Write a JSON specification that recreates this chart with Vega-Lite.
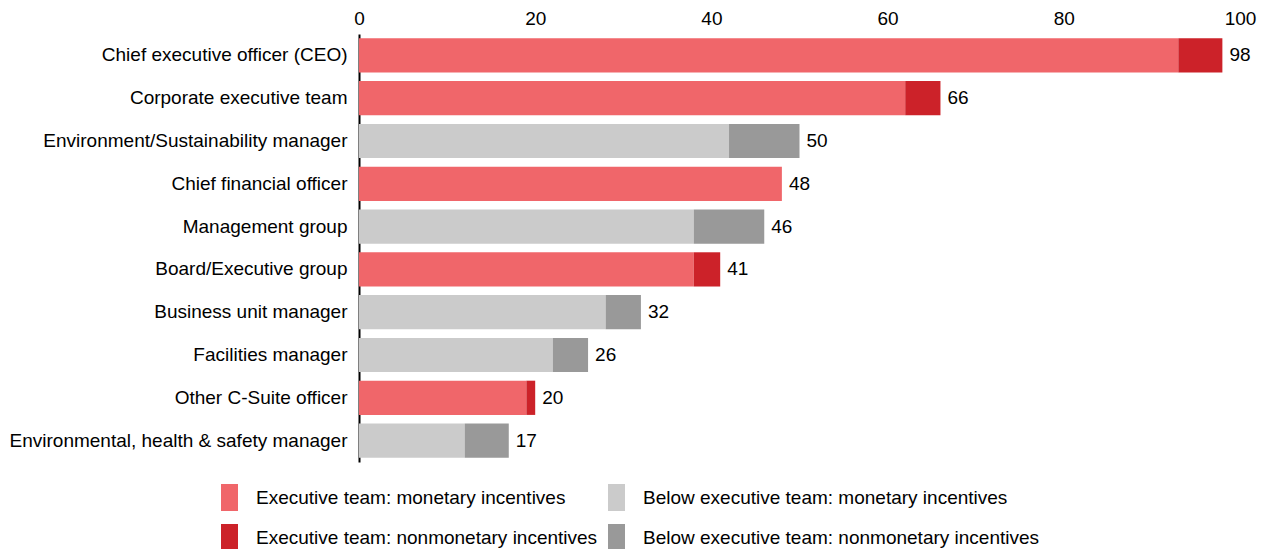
{
  "$schema": "https://vega.github.io/schema/vega-lite/v6.json",
  "width": 881,
  "height": 428,
  "autosize": "none",
  "padding": {"left": 359, "top": 34, "right": 26, "bottom": 87},
  "config": {
    "view": {"stroke": null},
    "font": "Liberation Sans",
    "axis": {"labelFont": "Liberation Sans", "labelColor": "#000000"},
    "legend": {"labelFont": "Liberation Sans", "labelColor": "#000000"}
  },
  "datasets": {
    "parts": [
      {"role": "Chief executive officer (CEO)", "series": "Executive team: monetary incentives", "ord": 1, "value": 93},
      {"role": "Chief executive officer (CEO)", "series": "Executive team: nonmonetary incentives", "ord": 2, "value": 5},
      {"role": "Corporate executive team", "series": "Executive team: monetary incentives", "ord": 1, "value": 62},
      {"role": "Corporate executive team", "series": "Executive team: nonmonetary incentives", "ord": 2, "value": 4},
      {"role": "Environment/Sustainability manager", "series": "Below executive team: monetary incentives", "ord": 1, "value": 42},
      {"role": "Environment/Sustainability manager", "series": "Below executive team: nonmonetary incentives", "ord": 2, "value": 8},
      {"role": "Chief financial officer", "series": "Executive team: monetary incentives", "ord": 1, "value": 48},
      {"role": "Management group", "series": "Below executive team: monetary incentives", "ord": 1, "value": 38},
      {"role": "Management group", "series": "Below executive team: nonmonetary incentives", "ord": 2, "value": 8},
      {"role": "Board/Executive group", "series": "Executive team: monetary incentives", "ord": 1, "value": 38},
      {"role": "Board/Executive group", "series": "Executive team: nonmonetary incentives", "ord": 2, "value": 3},
      {"role": "Business unit manager", "series": "Below executive team: monetary incentives", "ord": 1, "value": 28},
      {"role": "Business unit manager", "series": "Below executive team: nonmonetary incentives", "ord": 2, "value": 4},
      {"role": "Facilities manager", "series": "Below executive team: monetary incentives", "ord": 1, "value": 22},
      {"role": "Facilities manager", "series": "Below executive team: nonmonetary incentives", "ord": 2, "value": 4},
      {"role": "Other C-Suite officer", "series": "Executive team: monetary incentives", "ord": 1, "value": 19},
      {"role": "Other C-Suite officer", "series": "Executive team: nonmonetary incentives", "ord": 2, "value": 1},
      {"role": "Environmental, health & safety manager", "series": "Below executive team: monetary incentives", "ord": 1, "value": 12},
      {"role": "Environmental, health & safety manager", "series": "Below executive team: nonmonetary incentives", "ord": 2, "value": 5}
    ],
    "totals": [
      {"role": "Chief executive officer (CEO)", "total": 98},
      {"role": "Corporate executive team", "total": 66},
      {"role": "Environment/Sustainability manager", "total": 50},
      {"role": "Chief financial officer", "total": 48},
      {"role": "Management group", "total": 46},
      {"role": "Board/Executive group", "total": 41},
      {"role": "Business unit manager", "total": 32},
      {"role": "Facilities manager", "total": 26},
      {"role": "Other C-Suite officer", "total": 20},
      {"role": "Environmental, health & safety manager", "total": 17}
    ]
  },
  "encoding": {
    "y": {
      "field": "role",
      "type": "nominal",
      "sort": ["Chief executive officer (CEO)", "Corporate executive team", "Environment/Sustainability manager", "Chief financial officer", "Management group", "Board/Executive group", "Business unit manager", "Facilities manager", "Other C-Suite officer", "Environmental, health & safety manager"],
      "scale": {"paddingInner": 0.2, "paddingOuter": 0.1},
      "axis": {
        "title": null,
        "ticks": false,
        "domainColor": "#000000",
        "domainWidth": 2,
        "labelFontSize": 19,
        "labelPadding": 12,
        "labelLimit": 400
      }
    }
  },
  "layer": [
    {
      "data": {"name": "parts"},
      "mark": {"type": "bar"},
      "encoding": {
        "x": {
          "field": "value",
          "type": "quantitative",
          "stack": "zero",
          "scale": {"domain": [0, 100], "nice": false},
          "axis": {
            "orient": "top",
            "title": null,
            "values": [0, 20, 40, 60, 80, 100],
            "grid": false,
            "ticks": false,
            "domain": false,
            "labelFontSize": 19,
            "labelPadding": 6,
            "labelFlush": false
          }
        },
        "order": {"field": "ord", "type": "quantitative"},
        "color": {
          "field": "series",
          "type": "nominal",
          "scale": {
            "domain": ["Executive team: monetary incentives", "Executive team: nonmonetary incentives", "Below executive team: monetary incentives", "Below executive team: nonmonetary incentives"],
            "range": ["#F0666A", "#CC2229", "#CBCBCB", "#999999"]
          },
          "legend": {
            "title": null,
            "orient": "none",
            "legendX": -143,
            "legendY": 450,
            "columns": 2,
            "columnPadding": 5,
            "rowPadding": 13,
            "symbolType": "M-0.63,-1H0.63V1H-0.63Z",
            "symbolSize": 729,
            "symbolStrokeWidth": 0,
            "symbolOpacity": 1,
            "labelFontSize": 19,
            "labelOffset": 13,
            "labelLimit": 500
          }
        }
      }
    },
    {
      "data": {"name": "totals"},
      "mark": {"type": "text", "align": "left", "baseline": "middle", "dx": 7, "fontSize": 19, "color": "#000000"},
      "encoding": {
        "x": {"field": "total", "type": "quantitative"},
        "text": {"field": "total", "type": "quantitative"}
      }
    }
  ]
}
